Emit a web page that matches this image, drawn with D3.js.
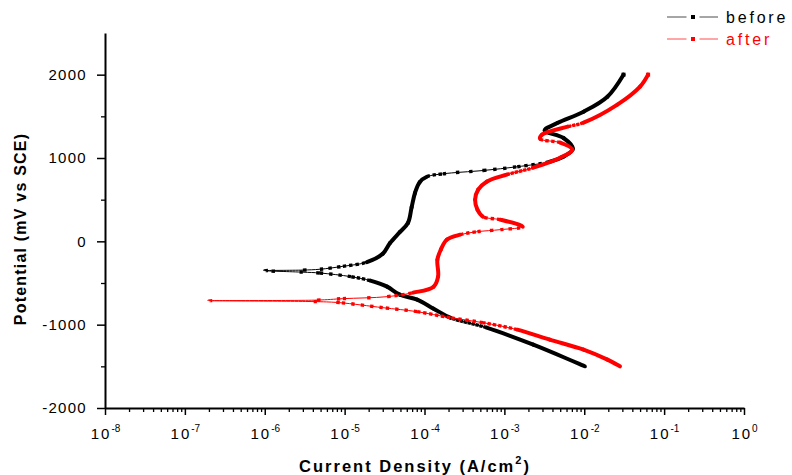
<!DOCTYPE html>
<html>
<head>
<meta charset="utf-8">
<script src="https://cdn.jsdelivr.net/npm/d3@7/dist/d3.min.js"></script>
<style>
  body { margin: 0; background: #fff; }
  text { font-family: "Liberation Sans", Arial, sans-serif; }
</style>
</head>
<body>
<div id="chart"></div>
<script>
// Data (sweep order: cathodic end -> Ecorr -> anodic end)
var before_i = [1.02e-2, 2.3e-3, 6.0e-4, 2.1e-4, 1.3e-4, 8.1e-5, 4.9e-5, 3.4e-5, 2.1e-5, 1.2e-5, 4.9e-6, 3.0e-6, 1.0e-6,
                3.0e-6, 4.9e-6, 9.5e-6, 1.9e-5, 3.0e-5, 3.7e-5, 4.9e-5, 6.2e-5, 6.9e-5, 7.6e-5, 8.7e-5, 1.07e-4, 1.7e-4,
                5.4e-4, 1.45e-3, 3.7e-3, 5.6e-3, 7.2e-3, 5.5e-3, 3.2e-3, 4.6e-3, 9.8e-3, 1.95e-2, 3.1e-2];
var before_E = [-1500, -1240, -1036, -916, -808, -700, -640, -544, -472, -424, -380, -370, -352,
                -345, -335, -300, -250, -150, -20, 110, 220, 410, 580, 710, 775, 810,
                850, 895, 955, 1020, 1110, 1240, 1330, 1420, 1556, 1736, 2000];

var after_i = [2.8e-2, 1.95e-2, 9.8e-3, 3.7e-3, 1.45e-3, 5.4e-4, 2.1e-4, 8.1e-5, 3.0e-5, 8.7e-6, 4.5e-6, 2.0e-7,
               4.5e-6, 9.5e-6, 3.4e-5, 7.2e-5, 1.3e-4, 1.48e-4, 1.45e-4, 1.6e-4, 1.9e-4, 2.8e-4, 4.6e-4, 8.9e-4, 1.7e-3,
               8.9e-4, 5.4e-4, 4.6e-4, 4.3e-4, 4.7e-4, 6.0e-4, 1.07e-3, 2.3e-3, 5.0e-3, 7.1e-3, 5.0e-3, 2.8e-3, 2.95e-3,
               6.2e-3, 9.8e-3, 2.6e-2, 5.0e-2, 6.3e-2];
var after_E = [-1500, -1420, -1300, -1180, -1060, -976, -916, -844, -796, -736, -724, -712,
               -705, -688, -664, -616, -544, -424, -220, -100, 20, 80, 116, 140, 176,
               260, 296, 380, 500, 620, 716, 800, 884, 1004, 1100, 1184, 1230, 1280,
               1376, 1424, 1640, 1856, 2000];

var x_exponents = [-8, -7, -6, -5, -4, -3, -2, -1, 0];
var y_major = [-2000, -1000, 0, 1000, 2000];
var y_minor = [-1500, -500, 500, 1500];
var series_names = ['before', 'after'];
var series_colors = ['#000000', '#ff0000'];

var chart_width = 792;
var chart_height = 475;
var font = '"Liberation Sans", Arial, sans-serif';

var x = d3.scaleLog().domain([1e-8, 1]).range([105, 744]);
var y = d3.scaleLinear().domain([-2000, 2500]).range([408, 33]);

var svg = d3.select('#chart')
    .append('svg')
    .attr('width', chart_width)
    .attr('height', chart_height);

// minor x ticks (2..9 of each decade)
var x_minor = x.ticks().filter(function(d){
    var l = Math.log10(d);
    return Math.abs(l - Math.round(l)) > 1e-6;
});
svg.append('g')
    .attr('transform', 'translate(0,408)')
    .call(d3.axisBottom(x).tickValues(x_minor).tickSize(4).tickSizeOuter(0).tickFormat(''))
    .call(function(g){ g.select('.domain').remove(); g.selectAll('line').attr('stroke-width', 1.3); });

// major x axis
var x_axis = svg.append('g')
    .attr('transform', 'translate(0,408)')
    .call(d3.axisBottom(x)
        .tickValues(x_exponents.map(function(e){ return Math.pow(10, e); }))
        .tickSize(7).tickSizeOuter(0).tickPadding(13).tickFormat(''));
x_axis.select('.domain').attr('stroke-width', 2);
x_axis.selectAll('line').attr('stroke-width', 1.5);
x_axis.selectAll('.tick text')
    .attr('font-size', 15)
    .attr('font-family', font)
    .attr('fill', '#000')
    .attr('letter-spacing', 2)
    .attr('dy', '0.75em')
    .each(function(d){
        var t = d3.select(this);
        t.append('tspan').text('10');
        t.append('tspan').attr('font-size', 10).attr('dy', -7).attr('letter-spacing', 0)
            .text(Math.round(Math.log10(d)));
    });

// y axis
svg.append('g')
    .attr('transform', 'translate(105,0)')
    .call(d3.axisLeft(y).tickValues(y_minor).tickSize(4).tickSizeOuter(0).tickFormat(''))
    .call(function(g){ g.select('.domain').remove(); g.selectAll('line').attr('stroke-width', 1.3); });

var y_axis = svg.append('g')
    .attr('transform', 'translate(105,0)')
    .call(d3.axisLeft(y).tickValues(y_major).tickSize(8).tickSizeOuter(0).tickPadding(10)
        .tickFormat(function(d){ return String(d); }));
y_axis.select('.domain').attr('stroke-width', 2);
y_axis.selectAll('line').attr('stroke-width', 1.5);
y_axis.selectAll('.tick text')
    .attr('font-size', 15)
    .attr('fill', '#000')
    .attr('letter-spacing', 1.3)
    .attr('font-family', font);

// curves: smooth path split into its bezier pieces; each piece gets a thin line
// plus a row of square markers whose spacing grows where the curve runs flat
var smooth = d3.line().curve(d3.curveCatmullRom.alpha(0.5));

function draw_curve(xs, ys, color){
    var pts = xs.map(function(v, k){ return [x(v), y(ys[k])]; });
    var g = svg.append('g');
    g.append('path')
        .attr('d', smooth(pts))
        .attr('fill', 'none').attr('stroke', color).attr('stroke-width', 1);
    var parts = smooth(pts).split('C');
    for (var k = 0; k < pts.length - 1; k++) {
        var seg = 'M' + pts[k][0] + ',' + pts[k][1] + 'C' + parts[k + 1];
        var dx = pts[k + 1][0] - pts[k][0], dy = pts[k + 1][1] - pts[k][1];
        var ratio = Math.sqrt(dx * dx + dy * dy) / Math.max(Math.abs(dy), 0.05);
        var gap = ratio * 1.1 - 3.5;
        var m = g.append('path')
            .attr('d', seg)
            .attr('fill', 'none')
            .attr('stroke', color);
        if (gap < 0.6) {
            m.attr('stroke-width', 4).attr('stroke-linecap', 'round');
        } else {
            m.attr('stroke-width', 3.4).attr('stroke-dasharray', '3.4 ' + gap);
        }
    }
    g.append('rect')
        .attr('x', pts[pts.length - 1][0] - 2).attr('y', pts[pts.length - 1][1] - 2)
        .attr('width', 4).attr('height', 4).attr('fill', color);
}

draw_curve(before_i, before_E, series_colors[0]);
draw_curve(after_i, after_E, series_colors[1]);

// legend
var legend = svg.selectAll('g.legend')
    .data(series_names)
    .enter()
    .append('g')
    .attr('class', 'legend')
    .attr('transform', function(d, i){ return 'translate(0,' + (17 + i * 22) + ')'; });

legend.append('line')
    .attr('x1', 667).attr('x2', 718).attr('y1', 0).attr('y2', 0)
    .attr('stroke', function(d, i){ return series_colors[i]; })
    .attr('stroke-opacity', 0.7)
    .attr('stroke-width', 1);
legend.append('rect')
    .attr('x', 691).attr('y', -2).attr('width', 4).attr('height', 4)
    .attr('fill', function(d, i){ return series_colors[i]; })
    .attr('stroke', '#fff').attr('stroke-width', 9)
    .attr('paint-order', 'stroke');
legend.append('rect')
    .attr('x', 691).attr('y', -2).attr('width', 4).attr('height', 4)
    .attr('fill', function(d, i){ return series_colors[i]; });
legend.append('text')
    .attr('x', 726).attr('y', 6)
    .attr('font-size', 16)
    .attr('letter-spacing', 2.8)
    .attr('fill', function(d, i){ return series_colors[i]; })
    .text(function(d){ return d; });

// axis titles
var xt = svg.append('text')
    .attr('x', 415).attr('y', 472)
    .attr('text-anchor', 'middle')
    .attr('font-size', 16.5)
    .attr('font-weight', 'bold')
    .attr('letter-spacing', 2);
xt.append('tspan').text('Current Density (A/cm');
xt.append('tspan').attr('font-size', 11).attr('dy', -8).text('2');
xt.append('tspan').attr('dy', 8).text(')');

svg.append('text')
    .attr('transform', 'translate(26,229) rotate(-90)')
    .attr('text-anchor', 'middle')
    .attr('font-size', 16)
    .attr('font-weight', 'bold')
    .attr('letter-spacing', 1.2)
    .text('Potential (mV vs SCE)');
</script>
</body>
</html>
